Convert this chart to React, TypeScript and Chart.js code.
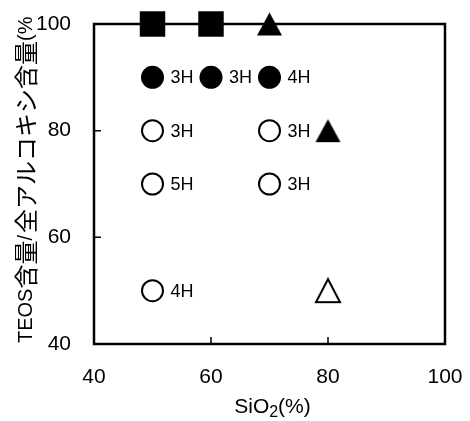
import React, { useEffect, useRef } from 'react';
import { Chart, registerables } from 'chart.js';

Chart.register(...registerables);

const xTicks = [40, 60, 80, 100];
const yTicks = [40, 60, 80, 100];

const squareX = [50, 60];
const squareY = [100, 100];

const triFilledX = [70, 80];
const triFilledY = [100, 80];

const circFilledX = [50, 60, 70];
const circFilledY = [90, 90, 90];
const circFilledLabels = ['3H', '3H', '4H'];

const circOpenX = [50, 70, 50, 70, 50];
const circOpenY = [80, 80, 70, 70, 50];
const circOpenLabels = ['3H', '3H', '5H', '3H', '4H'];

const triOpenX = [80];
const triOpenY = [50];

const xTitleParts = ['SiO', '2', '(%)'];
const yTitleParts = ['TEOS', '含量', '/', '全アルコキシ含量', '(%'];

const FONT = "'Liberation Sans', Arial, sans-serif";
const CJK = "'Noto Sans CJK JP', sans-serif";

function makeTriangle(w: number, h: number, filled: boolean): HTMLCanvasElement {
  const c = document.createElement('canvas');
  const pad = 2;
  c.width = w + pad * 2;
  c.height = h + pad * 2;
  const g = c.getContext('2d')!;
  g.beginPath();
  g.moveTo(pad + w / 2, pad);
  g.lineTo(pad + w, pad + h);
  g.lineTo(pad, pad + h);
  g.closePath();
  if (filled) {
    g.fillStyle = '#000';
    g.fill();
  } else {
    g.fillStyle = '#fff';
    g.fill();
    g.lineWidth = 2;
    g.strokeStyle = '#000';
    g.lineJoin = 'miter';
    g.stroke();
  }
  return c;
}

const pts = (xs: number[], ys: number[]) => xs.map((x, i) => ({ x, y: ys[i] }));

const isCJK = (s: string) => /[\u3000-\u9fff]/.test(s);

const framePlugin = {
  id: 'frame',
  beforeDatasetsDraw(chart: any) {
    const { ctx, chartArea: a, scales } = chart;
    ctx.save();
    ctx.strokeStyle = '#000';
    ctx.lineWidth = 2.5;
    ctx.strokeRect(a.left, a.top, a.right - a.left, a.bottom - a.top);
    ctx.lineWidth = 1.5;
    const tl = 7;
    ctx.beginPath();
    xTicks.forEach((v) => {
      if (v === xTicks[0] || v === xTicks[xTicks.length - 1]) return;
      const px = scales.x.getPixelForValue(v);
      ctx.moveTo(px, a.bottom);
      ctx.lineTo(px, a.bottom - tl);
    });
    yTicks.forEach((v) => {
      if (v === yTicks[0] || v === yTicks[yTicks.length - 1]) return;
      const py = scales.y.getPixelForValue(v);
      ctx.moveTo(a.left, py);
      ctx.lineTo(a.left + tl, py);
    });
    ctx.stroke();
    ctx.restore();
  },
  afterDatasetsDraw(chart: any) {
    const { ctx } = chart;
    ctx.save();
    ctx.fillStyle = '#000';
    ctx.font = `18px ${FONT}`;
    ctx.textAlign = 'left';
    ctx.textBaseline = 'middle';
    chart.data.datasets.forEach((ds: any, i: number) => {
      if (!ds.pointLabels) return;
      const meta = chart.getDatasetMeta(i);
      meta.data.forEach((el: any, j: number) => {
        ctx.fillText(ds.pointLabels[j], el.x + 18, el.y + 1);
      });
    });
    ctx.restore();
  },
  afterDraw(chart: any) {
    const { ctx, chartArea: a } = chart;
    ctx.save();
    ctx.fillStyle = '#000';
    ctx.textBaseline = 'alphabetic';
    ctx.textAlign = 'left';
    // x title with subscript
    const big = `21px ${FONT}`;
    const small = `16px ${FONT}`;
    ctx.font = big;
    const w1 = ctx.measureText(xTitleParts[0]).width;
    const w3 = ctx.measureText(xTitleParts[2]).width;
    ctx.font = small;
    const w2 = ctx.measureText(xTitleParts[1]).width;
    const total = w1 + w2 + w3;
    let x = (a.left + a.right) / 2 + 3 - total / 2;
    const base = 413;
    ctx.font = big;
    ctx.fillText(xTitleParts[0], x, base);
    x += w1;
    ctx.font = small;
    ctx.fillText(xTitleParts[1], x, base + 4);
    x += w2;
    ctx.font = big;
    ctx.fillText(xTitleParts[2], x, base);

    // y title, rotated, starting at the bottom of the plot
    ctx.translate(26, a.bottom - 1);
    ctx.rotate(-Math.PI / 2);
    ctx.textBaseline = 'middle';
    let p = 0;
    yTitleParts.forEach((s) => {
      ctx.font = isCJK(s) ? `24px ${CJK}` : `20px ${FONT}, ${CJK}`;
      ctx.fillText(s, p, 0);
      p += ctx.measureText(s).width + (s === '/' ? 2 : 0);
    });
    ctx.restore();
  },
};

export default function App() {
  const ref = useRef<HTMLCanvasElement>(null);
  useEffect(() => {
    document.body.style.margin = '0';
    const triFilled = makeTriangle(25, 23, true);
    const triOpen = makeTriangle(24, 23, false);
    const chart = new Chart(ref.current!, {
      type: 'scatter',
      data: {
        datasets: [
          {
            data: pts(squareX, squareY),
            pointStyle: 'rect',
            pointRadius: 18,
            pointBackgroundColor: '#000',
            pointBorderWidth: 0,
            clip: false,
          } as any,
          {
            data: pts(triFilledX, triFilledY),
            pointStyle: triFilled,
            pointRadius: 13,
            clip: false,
          } as any,
          {
            data: pts(circFilledX, circFilledY),
            pointStyle: 'circle',
            pointRadius: 11.5,
            pointBackgroundColor: '#000',
            pointBorderWidth: 0,
            pointLabels: circFilledLabels,
            clip: false,
          } as any,
          {
            data: pts(circOpenX, circOpenY),
            pointStyle: 'circle',
            pointRadius: 10.5,
            pointBackgroundColor: '#fff',
            pointBorderColor: '#000',
            pointBorderWidth: 2,
            pointLabels: circOpenLabels,
            clip: false,
          } as any,
          {
            data: pts(triOpenX, triOpenY),
            pointStyle: triOpen,
            pointRadius: 13,
            clip: false,
          } as any,
        ],
      },
      options: {
        animation: false,
        responsive: false,
        layout: { autoPadding: false, padding: { top: 24, right: 25, left: 0, bottom: 0 } },
        plugins: { legend: { display: false }, tooltip: { enabled: false } },
        scales: {
          x: {
            type: 'linear',
            min: 40,
            max: 100,
            afterBuildTicks: (s: any) => {
              s.ticks = xTicks.map((v) => ({ value: v }));
            },
            afterFit: (s: any) => {
              s.height = 77;
              s.paddingLeft = 0;
              s.paddingRight = 0;
            },
            grid: { display: false, drawTicks: false },
            border: { display: false },
            ticks: { color: '#000', font: { family: FONT, size: 21 }, padding: 21, maxRotation: 0 },
          },
          y: {
            type: 'linear',
            min: 40,
            max: 100,
            afterBuildTicks: (s: any) => {
              s.ticks = yTicks.map((v) => ({ value: v }));
            },
            afterFit: (s: any) => {
              s.width = 94;
              s.paddingTop = 0;
              s.paddingBottom = 0;
            },
            grid: { display: false, drawTicks: false },
            border: { display: false },
            ticks: { color: '#000', font: { family: FONT, size: 21 }, padding: 23 },
          },
        },
      },
      plugins: [framePlugin],
    });
    return () => chart.destroy();
  }, []);
  return (
    <div style={{ width: 470, height: 421 }}>
      <canvas ref={ref} width={470} height={421} style={{ display: 'block' }} />
    </div>
  );
}
